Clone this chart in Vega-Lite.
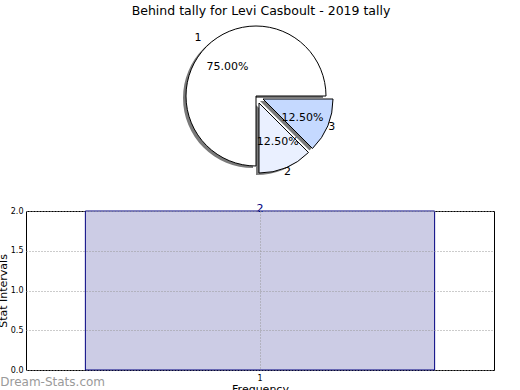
{
  "$schema": "https://vega.github.io/schema/vega-lite/v6.json",
  "background": "white",
  "padding": {"left": -4, "top": 4, "right": 5, "bottom": 0},
  "config": {"font": "DejaVu Sans", "view": {"stroke": null}},
  "spacing": 25,
  "vconcat": [
    {
      "width": 460,
      "height": 146,
      "title": {"text": "Behind tally for Levi Casboult - 2019 tally", "fontSize": 12.5, "fontWeight": "normal", "color": "black", "offset": 6, "dx": 5},
      "data": {"values": [
        {"slice": "1", "share": 0.75},
        {"slice": "2", "share": 0.125},
        {"slice": "3", "share": 0.125}
      ]},
      "transform": [
        {"stack": "share", "groupby": [], "sort": [{"field": "slice", "order": "descending"}], "as": ["s0", "s1"]}
      ],
      "layer": [
        {"transform": [{"filter": "datum.slice == '1'"}], "mark": {"type": "arc", "outerRadius": 70, "fill": "#7a7a7a", "xOffset": -3, "yOffset": 2},
          "encoding": {"theta": {"field": "s0", "type": "quantitative", "scale": {"domain": [0, 1], "range": [1.5707963, 7.8539816]}}, "theta2": {"field": "s1"}}},
        {"transform": [{"filter": "datum.slice == '2'"}], "mark": {"type": "arc", "outerRadius": 70, "fill": "#7a7a7a", "xOffset": 0, "yOffset": 9},
          "encoding": {"theta": {"field": "s0", "type": "quantitative"}, "theta2": {"field": "s1"}}},
        {"transform": [{"filter": "datum.slice == '3'"}], "mark": {"type": "arc", "outerRadius": 70, "fill": "#7a7a7a", "xOffset": 4, "yOffset": 5},
          "encoding": {"theta": {"field": "s0", "type": "quantitative"}, "theta2": {"field": "s1"}}},
        {"transform": [{"filter": "datum.slice == '1'"}], "mark": {"type": "arc", "outerRadius": 70, "fill": "#ffffff", "stroke": "black", "strokeWidth": 1},
          "encoding": {"theta": {"field": "s0", "type": "quantitative"}, "theta2": {"field": "s1"}}},
        {"transform": [{"filter": "datum.slice == '2'"}], "mark": {"type": "arc", "outerRadius": 70, "fill": "#eaf0ff", "stroke": "black", "strokeWidth": 1, "xOffset": 3, "yOffset": 7},
          "encoding": {"theta": {"field": "s0", "type": "quantitative"}, "theta2": {"field": "s1"}}},
        {"transform": [{"filter": "datum.slice == '3'"}], "mark": {"type": "arc", "outerRadius": 70, "fill": "#c5d9ff", "stroke": "black", "strokeWidth": 1, "xOffset": 7, "yOffset": 3},
          "encoding": {"theta": {"field": "s0", "type": "quantitative"}, "theta2": {"field": "s1"}}},
        {"mark": {"type": "text", "radius": 46, "fontSize": 11, "color": "black", "xOffset": 4, "yOffset": 4},
          "encoding": {"theta": {"field": "share", "type": "quantitative", "stack": true}, "order": {"field": "slice", "sort": "descending"}, "text": {"field": "share", "type": "quantitative", "format": ".2%"}}},
        {"mark": {"type": "text", "radius": 82, "fontSize": 11, "color": "black"},
          "encoding": {"theta": {"field": "share", "type": "quantitative", "stack": true}, "order": {"field": "slice", "sort": "descending"}, "text": {"field": "slice", "type": "nominal"}}}
      ]
    },
    {
      "width": 468,
      "height": 159,
      "view": {"stroke": "black", "strokeWidth": 1},
      "title": {"text": "Dream-Stats.com", "orient": "bottom", "anchor": "start", "frame": "bounds", "fontSize": 12, "fontWeight": "normal", "color": "#9a9a9a", "offset": -17, "dx": 3},
      "data": {"values": [{"freq": "1", "intervals": 2}]},
      "encoding": {
        "x": {"field": "freq", "type": "nominal", "scale": {"paddingOuter": 0.17, "paddingInner": 0},
          "axis": {"title": "Frequency", "titleFontSize": 11, "titleFontWeight": "normal", "titleColor": "black", "titlePadding": 1, "labelAngle": 0, "labelFontSize": 8, "labelColor": "black", "grid": true, "gridDash": [1, 2], "gridColor": "#999", "gridOpacity": 1, "domain": false, "ticks": false, "labelPadding": 4, "bandPosition": 0.5, "zindex": 1}},
        "y": {"field": "intervals", "type": "quantitative", "scale": {"domain": [0, 2], "nice": false},
          "axis": {"title": "Stat Intervals", "titleFontSize": 11, "titleFontWeight": "normal", "titleColor": "black", "titlePadding": 2, "values": [0, 0.5, 1, 1.5, 2], "format": ".1f", "labelFontSize": 8, "labelColor": "black", "grid": true, "gridDash": [1, 2], "gridColor": "#999", "gridOpacity": 1, "domain": false, "ticks": false, "labelPadding": 3, "zindex": 1}}
      },
      "layer": [
        {"mark": {"type": "bar", "fill": "#ccccE5", "stroke": "#000080", "strokeWidth": 1}},
        {"mark": {"type": "text", "baseline": "alphabetic", "dy": 1, "fontSize": 11, "color": "#000080"}, "encoding": {"text": {"field": "intervals", "type": "quantitative"}}}
      ]
    }
  ]
}
